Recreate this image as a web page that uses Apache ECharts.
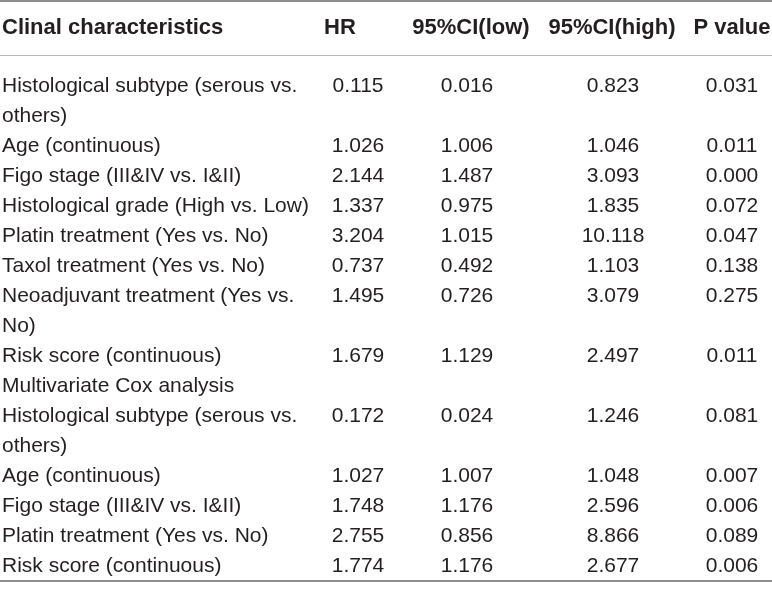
<!DOCTYPE html>
<html>
<head>
<meta charset="utf-8">
<script src="https://cdn.jsdelivr.net/npm/echarts@6/dist/echarts.min.js"></script>
<style>
    html, body { margin: 0; padding: 0; background: #fff; }
    #main { width: 772px; height: 591px; }
</style>
</head>
<body>
<div id="main"></div>
<script>
// 表头
var headers = ['Clinal characteristics', 'HR', '95%CI(low)', '95%CI(high)', 'P value'];
// 行名
var characteristics = [
    'Histological subtype (serous vs. others)',
    'Age (continuous)',
    'Figo stage (III&IV vs. I&II)',
    'Histological grade (High vs. Low)',
    'Platin treatment (Yes vs. No)',
    'Taxol treatment (Yes vs. No)',
    'Neoadjuvant treatment (Yes vs. No)',
    'Risk score (continuous)',
    'Multivariate Cox analysis',
    'Histological subtype (serous vs. others)',
    'Age (continuous)',
    'Figo stage (III&IV vs. I&II)',
    'Platin treatment (Yes vs. No)',
    'Risk score (continuous)'
];
var hr = [0.115, 1.026, 2.144, 1.337, 3.204, 0.737, 1.495, 1.679, null, 0.172, 1.027, 1.748, 2.755, 1.774];
var ciLow = [0.016, 1.006, 1.487, 0.975, 1.015, 0.492, 0.726, 1.129, null, 0.024, 1.007, 1.176, 0.856, 1.176];
var ciHigh = [0.823, 1.046, 3.093, 1.835, 10.118, 1.103, 3.079, 2.497, null, 1.246, 1.048, 2.596, 8.866, 2.677];
var pValue = [0.031, 0.011, 0.000, 0.072, 0.047, 0.138, 0.275, 0.011, null, 0.081, 0.007, 0.006, 0.089, 0.006];

// 布局 (y 轴单位 = 一行文字高度)
var fontFamily = '"Liberation Sans", Arial, sans-serif';
var fontSize = 21;
var headFontSize = 22;
var lineH = 30;
var wrapWidth = 320;
var headerTop = 0.43;
var bodyTop = 2.36;
var rules = [
    { y: 0.033, width: 2, color: '#8e8e8e' },
    { y: 1.833, width: 1.2, color: '#b4b4b4' },
    { y: 19.37, width: 2, color: '#8e8e8e' }
];
var colX = [2, 358, 467, 613, 732];
var headX = [2, 340, 471, 612, 732];
var textColor = '#231f20';

// 自动换行 - start
var ctx = document.createElement('canvas').getContext('2d');
ctx.font = fontSize + 'px ' + fontFamily;
function wrapText(str) {
    var words = str.split(' ');
    var lines = [];
    var cur = '';
    for (var i = 0; i < words.length; i++) {
        var test = cur ? cur + ' ' + words[i] : words[i];
        if (cur && ctx.measureText(test).width > wrapWidth) {
            lines.push(cur);
            cur = words[i];
        } else {
            cur = test;
        }
    }
    lines.push(cur);
    return lines;
}
// 自动换行 - end

var cells = [];
for (var h = 0; h < headers.length; h++) {
    cells.push({ value: [headX[h], headerTop], text: headers[h], bold: true, align: h == 0 ? 'left' : 'center' });
}
var rowTop = bodyTop;
var columns = [hr, ciLow, ciHigh, pValue];
for (var r = 0; r < characteristics.length; r++) {
    var lines = wrapText(characteristics[r]);
    cells.push({ value: [colX[0], rowTop], text: lines.join('\n'), bold: false, align: 'left' });
    for (var c = 0; c < columns.length; c++) {
        var v = columns[c][r];
        if (v == null) continue;
        cells.push({ value: [colX[c + 1], rowTop], text: v.toFixed(3), bold: false, align: 'center' });
    }
    rowTop += lines.length;
}

var myChart = echarts.init(document.getElementById('main'));
var option = {
    animation: false,
    grid: { left: 0, right: 0, top: 0, bottom: 0 },
    xAxis: { type: 'value', min: 0, max: 772, show: false },
    yAxis: { type: 'value', min: 0, max: 591 / lineH, inverse: true, show: false },
    series: [{
        type: 'custom',
        silent: true,
        data: cells,
        renderItem: function (params, api) {
            var cell = cells[params.dataIndex];
            var p = api.coord([api.value(0), api.value(1)]);
            return {
                type: 'text',
                x: p[0],
                y: p[1],
                style: {
                    text: cell.text,
                    font: cell.bold ? 'bold ' + headFontSize + 'px ' + fontFamily : fontSize + 'px ' + fontFamily,
                    fill: textColor,
                    align: cell.align,
                    verticalAlign: 'top',
                    lineHeight: lineH
                }
            };
        },
        markLine: {
            silent: true,
            symbol: ['none', 'none'],
            label: { show: false },
            data: rules.map(function (d) {
                return { yAxis: d.y, lineStyle: { type: 'solid', width: d.width, color: d.color } };
            })
        }
    }]
};
myChart.setOption(option);
</script>
</body>
</html>
